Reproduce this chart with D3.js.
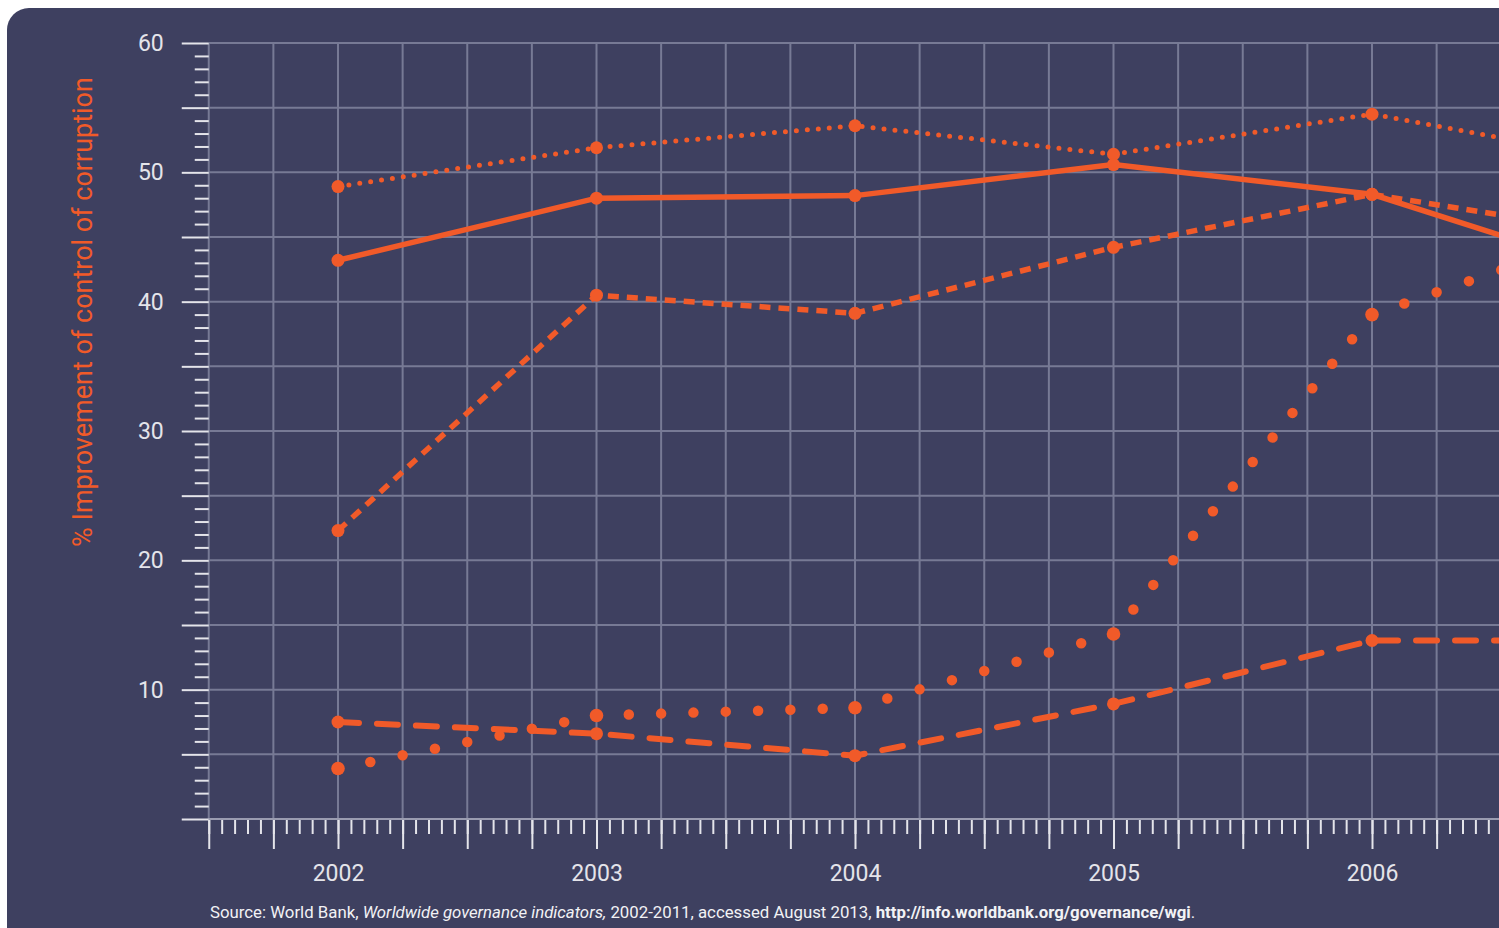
<!DOCTYPE html>
<html>
<head>
<meta charset="utf-8">
<script src="https://cdn.jsdelivr.net/npm/d3@7"></script>
<style>
  body { margin: 0; background: #ffffff; }
  svg { display: block; }
  .tick text { font-family: "Roboto", sans-serif; }
</style>
</head>
<body>
<div class="chart"></div>
<script>
// data
const years = [2002, 2003, 2004, 2005, 2006, 2007];
const fineDotted = [48.9, 51.9, 53.6, 51.4, 54.5, 50.8];
const solid = [43.2, 48.0, 48.2, 50.6, 48.3, 41.9];
const shortDash = [22.3, 40.5, 39.1, 44.2, 48.3, 45.1];
const longDash = [7.5, 6.6, 4.9, 8.9, 13.8, 13.8];
const bigDotted = [3.9, 8.0, 8.6, 14.3, 39.0, 45.9];
const yTicks = [10, 20, 30, 40, 50, 60];
const yLabel = "% Improvement of control of corruption";

const width = 1499;
const height = 928;
const orange = "#f15a29";
const grid = "#777a95";
const light = "#e4e4ea";

const x = d3.scaleLinear().domain([2002, 2006]).range([338, 1372]);
const y = d3.scaleLinear().domain([0, 60]).range([819, 43]);

const svg = d3.select(".chart")
    .append("svg")
    .attr("width", width)
    .attr("height", height);

// background panel
svg.append("rect")
    .attr("x", 7).attr("y", 8)
    .attr("width", 1700).attr("height", 1100)
    .attr("rx", 22)
    .attr("fill", "#3e4060");

// grid
const quarters = d3.range(2001.5, 2007.01, 0.25);
svg.append("g")
    .selectAll("line")
    .data(quarters)
    .join("line")
    .attr("x1", d => x(d)).attr("x2", d => x(d))
    .attr("y1", y(60)).attr("y2", y(0))
    .attr("stroke", grid).attr("stroke-width", 2);

svg.append("g")
    .selectAll("line")
    .data(d3.range(5, 61, 5))
    .join("line")
    .attr("x1", x(2001.5)).attr("x2", width)
    .attr("y1", d => y(d)).attr("y2", d => y(d))
    .attr("stroke", grid).attr("stroke-width", 2);

svg.append("line")
    .attr("x1", x(2001.5)).attr("x2", width)
    .attr("y1", y(0)).attr("y2", y(0))
    .attr("stroke", "#9a9cb0").attr("stroke-width", 2);

// y axis: minor ticks every unit, long ticks every 5, labels every 10
const yMinor = svg.append("g")
    .attr("transform", `translate(${x(2001.5)},0)`)
    .call(d3.axisLeft(y).tickValues(d3.range(0, 61, 1).filter(d => d % 5)).tickSize(14).tickFormat(""));
const yMajor = svg.append("g")
    .attr("transform", `translate(${x(2001.5)},0)`)
    .call(d3.axisLeft(y).tickValues(d3.range(0, 61, 5)).tickSize(27).tickPadding(18)
        .tickFormat(d => yTicks.includes(d) ? d : ""));
[yMinor, yMajor].forEach(g => {
    g.select(".domain").remove();
    g.selectAll(".tick line").attr("stroke", light).attr("stroke-width", 2);
});
yMajor.selectAll(".tick text")
    .attr("fill", light)
    .style("font-size", "23px");

// x axis: long ticks every quarter, short ticks every twentieth
const xMinor = svg.append("g")
    .attr("transform", `translate(0,${y(0) + 1})`)
    .call(d3.axisBottom(x).tickValues(d3.range(2001.5, 2007.01, 0.05)).tickSize(14).tickFormat(""));
const xMajor = svg.append("g")
    .attr("transform", `translate(0,${y(0) + 1})`)
    .call(d3.axisBottom(x).tickValues(quarters).tickSize(29).tickFormat(""));
const xLabels = svg.append("g")
    .attr("transform", `translate(0,${y(0)})`)
    .call(d3.axisBottom(x).tickValues(years.slice(0, 5)).tickSize(0).tickPadding(46).tickFormat(d3.format("d")));
[xMinor, xMajor, xLabels].forEach(g => g.select(".domain").remove());
[xMinor, xMajor].forEach(g => g.selectAll(".tick line").attr("stroke", light).attr("stroke-width", 2));
xLabels.selectAll(".tick text")
    .attr("fill", light)
    .style("font-size", "23px");

// y axis title
svg.append("text")
    .attr("transform", `translate(92,312) rotate(-90)`)
    .attr("text-anchor", "middle")
    .attr("fill", orange)
    .style("font-family", "Roboto, sans-serif")
    .style("font-size", "27px")
    .text(yLabel);

// series
const series = [
    { values: fineDotted, width: 5, dash: "0,11", cap: "round", r: 6.5 },
    { values: solid, width: 5.5, dash: null, cap: "butt", r: 6.5 },
    { values: shortDash, width: 5.5, dash: "11,8", cap: "butt", r: 6.5 },
    { values: longDash, width: 6, dash: "21,18", cap: "round", r: 6.5 },
    { values: bigDotted, width: 10.5, dash: null, cap: "round", r: 6.8, perSegment: 32.5 }
];

const line = d3.line()
    .x((d, i) => x(years[i]))
    .y(d => y(d));

series.forEach(s => {
    if (s.perSegment) {
        // big dots: each segment spaced so a dot lands on both ends
        d3.pairs(s.values.map((v, i) => [x(years[i]), y(v)])).forEach(([a, b]) => {
            const len = Math.hypot(b[0] - a[0], b[1] - a[1]);
            const step = len / Math.round(len / s.perSegment);
            svg.append("path")
                .attr("d", d3.line()([a, b]))
                .attr("fill", "none")
                .attr("stroke", orange)
                .attr("stroke-width", s.width)
                .attr("stroke-linecap", "round")
                .attr("stroke-dasharray", `0,${step}`);
        });
    } else {
        svg.append("path")
            .datum(s.values)
            .attr("d", line)
            .attr("fill", "none")
            .attr("stroke", orange)
            .attr("stroke-width", s.width)
            .attr("stroke-linecap", s.cap)
            .attr("stroke-dasharray", s.dash);
    }
    svg.append("g")
        .selectAll("circle")
        .data(s.values.slice(0, 5))
        .join("circle")
        .attr("cx", (d, i) => x(years[i]))
        .attr("cy", d => y(d))
        .attr("r", s.r)
        .attr("fill", orange);
});

// source note
const note = svg.append("text")
    .attr("x", 210)
    .attr("y", 918)
    .attr("fill", "#f2f2f5")
    .style("font-family", "Roboto, sans-serif")
    .style("font-size", "16.8px");
note.append("tspan").text("Source: World Bank, ");
note.append("tspan").style("font-style", "italic").text("Worldwide governance indicators,");
note.append("tspan").text(" 2002-2011, accessed August 2013, ");
note.append("tspan").style("font-weight", "bold").text("http://info.worldbank.org/governance/wgi");
note.append("tspan").text(".");
</script>
</body>
</html>
